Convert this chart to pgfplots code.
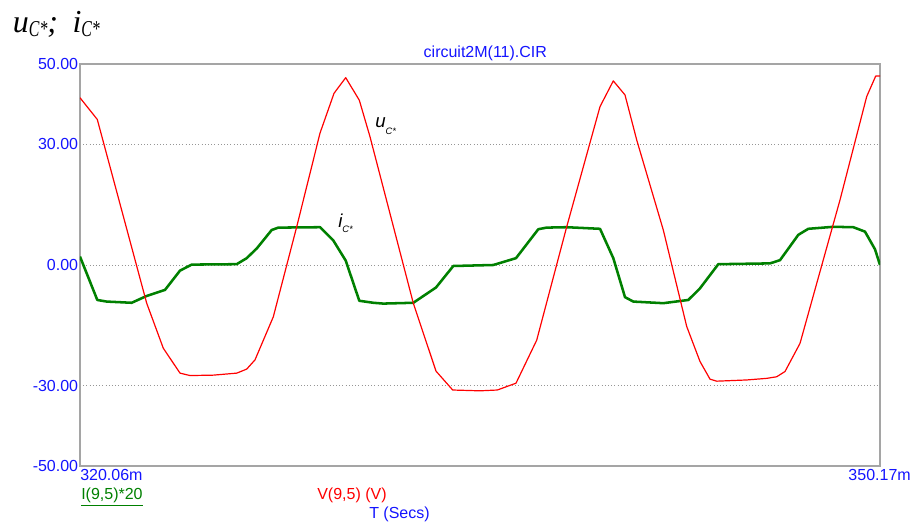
\documentclass[border=0pt]{standalone}
\usepackage{fontspec}
\setmainfont{Liberation Sans}
\newfontfamily\serifit{Liberation Serif}[ItalicFont={Liberation Serif Italic}]
\usepackage{pgfplots}
\pgfplotsset{compat=1.18}
\definecolor{frameGray}{RGB}{165,165,165}
\definecolor{gridGray}{RGB}{150,150,150}
\definecolor{txtBlue}{RGB}{20,20,255}
\definecolor{curGreen}{RGB}{0,128,0}
\definecolor{curRed}{RGB}{255,0,0}
\newcommand{\bigsub}{\raisebox{-0.12em}{\scalebox{0.7}[1]{\fontsize{17}{17}\selectfont C*}}}
\begin{document}
\begin{tikzpicture}
\begin{axis}[
  at={(0,0)}, anchor=south west,
  scale only axis, width=600pt, height=301.5pt,
  xmin=320.06, xmax=350.17, ymin=-50, ymax=50,
  axis line style={frameGray, line width=0.8pt},
  ytick={-50,-30,0,30,50},
  yticklabels={-50.00,-30.00,0.00,30.00,50.00},
  xtick=\empty,
  major tick length=0pt,
  ymajorgrids,
  grid style={gridGray, dotted, line width=0.6pt},
  yticklabel style={font=\fontsize{12}{14}\selectfont, text=txtBlue, inner sep=1.2pt},
  clip=true,
]
\addplot[curGreen, line width=1.9pt, line join=round] coordinates {
(320.060,2.1) (320.711,-8.7) (321.065,-9.1) (322.006,-9.4) (322.570,-7.7)
(323.259,-6.2) (323.824,-1.4) (324.264,0.1) (325.958,0.2) (326.334,1.7)
(326.711,4.1) (327.275,8.7) (327.524,9.3) (329.093,9.4) (329.594,6.1)
(330.060,1.1) (330.572,-8.9) (331.099,-9.4) (331.475,-9.6) (332.605,-9.4)
(333.459,-5.6) (334.110,-0.25) (335.616,0.0) (336.470,1.7) (337.309,8.9)
(337.625,9.3) (338.378,9.4) (339.632,9.0) (340.132,1.7) (340.572,-8.0)
(340.885,-9.1) (342.014,-9.5) (342.955,-8.7) (343.395,-5.8) (344.084,0.2)
(346.030,0.4) (346.406,1.2) (347.095,7.5) (347.471,9.0) (348.412,9.5)
(349.165,9.4) (349.605,8.3) (349.982,3.9) (350.170,0.0)
};
\addplot[curRed, line width=0.9pt, line join=round] coordinates {
(320.060,41.6) (320.711,36.2) (322.570,-9.5) (323.195,-20.7) (323.824,-26.9)
(324.200,-27.5) (325.077,-27.4) (325.958,-26.9) (326.334,-25.9) (326.647,-23.6)
(327.335,-12.9) (328.216,9.5) (329.093,32.8) (329.620,42.7) (330.060,46.6)
(330.572,41.0) (330.975,31.9) (332.605,-9.5) (333.459,-26.4) (334.088,-31.1)
(335.115,-31.3) (335.766,-31.1) (336.470,-29.4) (337.249,-18.7) (338.378,9.5)
(339.632,39.4) (340.132,45.8) (340.572,42.3) (341.013,31.1) (342.014,8.7)
(342.895,-15.3) (343.395,-24.0) (343.772,-28.4) (344.024,-28.9) (345.153,-28.6)
(345.906,-28.2) (346.282,-27.8) (346.594,-26.5) (347.159,-19.5) (347.787,-4.6)
(348.665,16.2) (349.669,41.9) (350.008,47.0) (350.170,47.0)
};
\node[anchor=base west, inner sep=0pt, font=\fontsize{14}{14}\selectfont\itshape] at (axis cs:331.163,34.1) {u\raisebox{-0.35em}{\fontsize{7}{7}\selectfont C*}};
\node[anchor=base west, inner sep=0pt, font=\fontsize{14}{14}\selectfont\itshape] at (axis cs:329.77,9.4) {i\raisebox{-0.3em}{\fontsize{7}{7}\selectfont C*}};
\end{axis}
% texts around the axis (1px = 0.75pt, origin at axis south west)
\node[anchor=base west, inner sep=0pt, font=\serifit\itshape\fontsize{24}{24}\selectfont] at (-50.5pt,324.75pt) {u\bigsub;\hspace{0.45em}i\bigsub};
\node[anchor=base, inner sep=0pt, text=txtBlue, font=\fontsize{12}{14}\selectfont] at (304pt,306pt) {circuit2M(11).CIR};
\node[anchor=north west, inner sep=0pt, text=txtBlue, font=\fontsize{12}{14}\selectfont] at (0pt,-2.5pt) {320.06m};
\node[anchor=north east, inner sep=0pt, text=txtBlue, font=\fontsize{12}{14}\selectfont] at (623.25pt,-2.5pt) {350.17m};
\node[anchor=base west, inner sep=0pt, text=curGreen, font=\fontsize{12}{14}\selectfont] at (0.75pt,-25.5pt) {\underline{I(9,5)*20}};
\node[anchor=base west, inner sep=0pt, text=curRed, font=\fontsize{12}{14}\selectfont] at (177.75pt,-25.5pt) {V(9,5) (V)};
\node[anchor=base west, inner sep=0pt, text=txtBlue, font=\fontsize{12}{14}\selectfont] at (216.75pt,-39.75pt) {T (Secs)};
\pgfresetboundingbox
\path (-60pt,-42.75pt) rectangle (624pt,349.5pt);
\end{tikzpicture}
\end{document}
